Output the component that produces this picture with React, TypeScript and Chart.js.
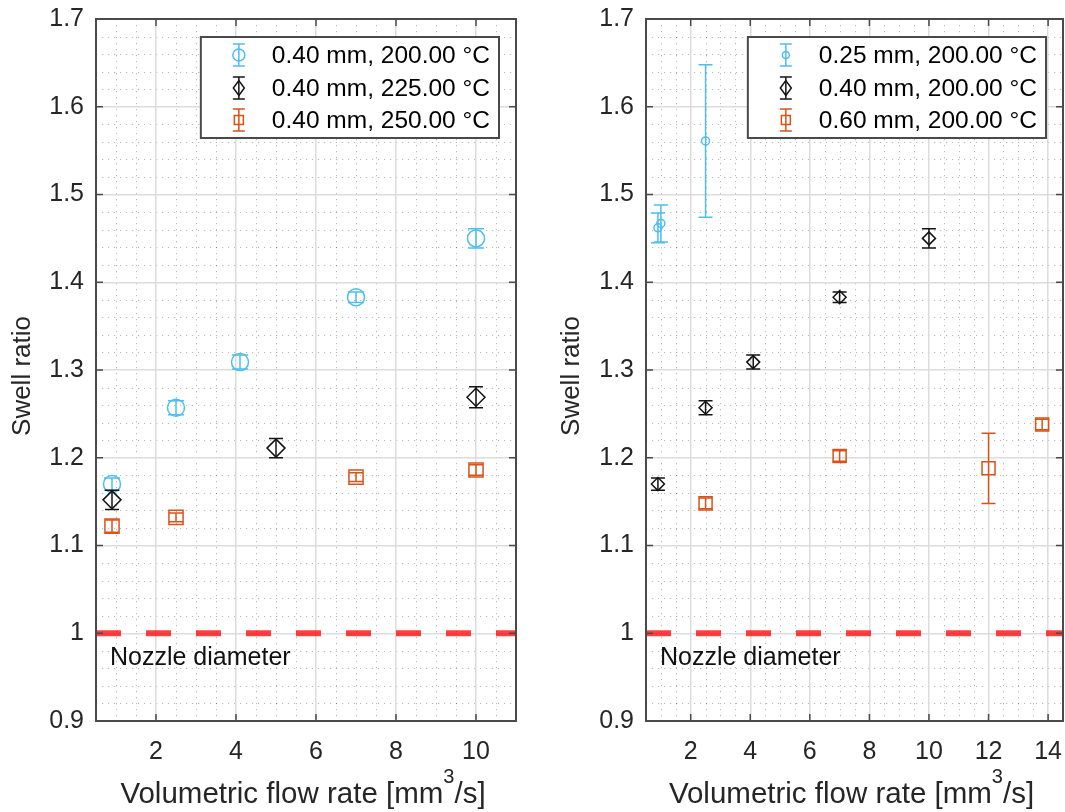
import React, { useEffect, useRef } from "react";
import { Chart, registerables } from "chart.js";

Chart.register(...registerables);

const FONT = "'Liberation Sans', Arial, Helvetica, sans-serif";

// ---------- Left panel data (0.40 mm nozzle, varying temperature) ----------
const LEFT_LABELS = ["0.40 mm, 200.00 °C", "0.40 mm, 225.00 °C", "0.40 mm, 250.00 °C"];
const LEFT_S1_X = [0.9, 2.5, 4.1, 7.0, 10.0];
const LEFT_S1_Y = [1.17, 1.257, 1.309, 1.383, 1.45];
const LEFT_S1_ERR = [0.007, 0.008, 0.008, 0.006, 0.011];
const LEFT_S2_X = [0.9, 5.0, 10.0];
const LEFT_S2_Y = [1.152, 1.211, 1.269];
const LEFT_S2_ERR = [0.011, 0.011, 0.012];
const LEFT_S3_X = [0.9, 2.5, 7.0, 10.0];
const LEFT_S3_Y = [1.122, 1.132, 1.178, 1.186];
const LEFT_S3_ERR = [0.007, 0.005, 0.005, 0.006];

// ---------- Right panel data (200 °C, varying nozzle diameter) ----------
const RIGHT_LABELS = ["0.25 mm, 200.00 °C", "0.40 mm, 200.00 °C", "0.60 mm, 200.00 °C"];
const RIGHT_S1_X = [0.9, 1.0, 2.5];
const RIGHT_S1_Y = [1.462, 1.467, 1.561];
const RIGHT_S1_ERR = [0.017, 0.021, 0.087];
const RIGHT_S2_X = [0.9, 2.5, 4.1, 7.0, 10.0];
const RIGHT_S2_Y = [1.17, 1.257, 1.309, 1.383, 1.45];
const RIGHT_S2_ERR = [0.007, 0.008, 0.008, 0.006, 0.011];
const RIGHT_S3_X = [2.5, 7.0, 12.0, 13.8];
const RIGHT_S3_Y = [1.148, 1.202, 1.188, 1.238];
const RIGHT_S3_ERR = [0.006, 0.006, 0.04, 0.006];

// ---------- Axes ----------
const NOZZLE_Y = [1, 1];
const NOZZLE_TEXT = "Nozzle diameter";
const NOZZLE_TEXT_Y = 0.972;
const LEFT_X_RANGE = [0.5, 11];
const RIGHT_X_RANGE = [0.5, 14.5];
const Y_RANGE = [0.9, 1.7];
const LEFT_X_TICKS = [2, 4, 6, 8, 10];
const LEFT_X_TICK_LABELS = ["2", "4", "6", "8", "10"];
const RIGHT_X_TICKS = [2, 4, 6, 8, 10, 12, 14];
const RIGHT_X_TICK_LABELS = ["2", "4", "6", "8", "10", "12", "14"];
const Y_TICKS = [0.9, 1.0, 1.1, 1.2, 1.3, 1.4, 1.5, 1.6, 1.7];
const Y_TICK_LABELS = ["0.9", "1", "1.1", "1.2", "1.3", "1.4", "1.5", "1.6", "1.7"];
const Y_TITLE = "Swell ratio";
const X_TITLE_MAIN = "Volumetric flow rate [mm";
const X_TITLE_SUP = "3";
const X_TITLE_END = "/s]";

const BLUE = "rgb(77,190,238)";
const BLACK = "rgb(20,20,20)";
const ORANGE = "rgb(217,83,25)";
const AXIS_COLOR = "#4a4a4a";
const TEXT_COLOR = "#262626";

type Shape = "circle" | "rectRot" | "rect";
interface SeriesCfg {
  label: string;
  xs: number[];
  ys: number[];
  errs: number[];
  color: string;
  shape: Shape;
  radius: number;
  cap: number;
  legendSize: number;
}
interface PanelCfg {
  series: SeriesCfg[];
  xRange: number[];
  xTicks: number[];
  xTickLabels: string[];
  canvasLeft: number;
  canvasWidth: number;
  areaLeft: number;
  areaRight: number;
  yTitleX: number;
}

const AREA_TOP = 19;
const AREA_BOTTOM = 721;
const H = 812;

function drawShape(ctx: CanvasRenderingContext2D, shape: Shape, x: number, y: number, s: number) {
  ctx.beginPath();
  if (shape === "circle") {
    ctx.arc(x, y, s, 0, Math.PI * 2);
  } else if (shape === "rectRot") {
    ctx.moveTo(x, y - s * 1.35);
    ctx.lineTo(x + s, y);
    ctx.lineTo(x, y + s * 1.35);
    ctx.lineTo(x - s, y);
    ctx.closePath();
  } else {
    ctx.rect(x - s, y - s, 2 * s, 2 * s);
  }
  ctx.stroke();
}

function makePlugin(p: PanelCfg) {
  return {
    id: "panelDecor",
    beforeDraw(chart: any) {
      const { ctx, chartArea: a, scales } = chart;
      const xs = scales.x;
      const ys = scales.y;
      ctx.save();
      ctx.strokeStyle = "rgba(0,0,0,0.28)";
      ctx.lineWidth = 1;
      ctx.setLineDash([1.2, 4.8]);
      for (let i = 0; i <= 40; i++) {
        if (i % 5 === 0) continue;
        const v = Y_RANGE[0] + i * 0.02;
        const py = Math.round(ys.getPixelForValue(v)) + 0.5;
        ctx.beginPath();
        ctx.moveTo(a.left, py);
        ctx.lineTo(a.right, py);
        ctx.stroke();
      }
      for (let i = 1; i <= 60; i++) {
        const v = i * 0.5;
        if (v <= p.xRange[0] || v >= p.xRange[1]) continue;
        if (i % 4 === 0) continue;
        const px = Math.round(xs.getPixelForValue(v)) + 0.5;
        ctx.beginPath();
        ctx.moveTo(px, a.top);
        ctx.lineTo(px, a.bottom);
        ctx.stroke();
      }
      ctx.restore();
    },
    afterDatasetsDraw(chart: any) {
      const { ctx, scales } = chart;
      const xs = scales.x;
      const ys = scales.y;
      ctx.save();
      ctx.lineWidth = 1.5;
      chart.data.datasets.forEach((ds: any) => {
        if (!ds.errorBars) return;
        ctx.strokeStyle = ds.borderColor;
        ds.data.forEach((pt: any, i: number) => {
          const e = ds.errorBars[i];
          const px = xs.getPixelForValue(pt.x);
          const pt1 = ys.getPixelForValue(pt.y + e);
          const pb = ys.getPixelForValue(pt.y - e);
          const c = ds.capHalf;
          ctx.beginPath();
          ctx.moveTo(px, pt1);
          ctx.lineTo(px, pb);
          ctx.moveTo(px - c, pt1);
          ctx.lineTo(px + c, pt1);
          ctx.moveTo(px - c, pb);
          ctx.lineTo(px + c, pb);
          ctx.stroke();
        });
      });
      ctx.restore();
    },
    afterDraw(chart: any) {
      const { ctx, chartArea: a, scales } = chart;
      const xs = scales.x;
      const ys = scales.y;
      ctx.save();
      // nozzle label
      ctx.fillStyle = "#111";
      ctx.font = `25px ${FONT}`;
      ctx.textAlign = "left";
      ctx.textBaseline = "middle";
      ctx.fillText(NOZZLE_TEXT, a.left + 14, ys.getPixelForValue(NOZZLE_TEXT_Y));

      // x tick labels
      ctx.fillStyle = TEXT_COLOR;
      ctx.font = `25px ${FONT}`;
      ctx.textAlign = "center";
      ctx.textBaseline = "middle";
      p.xTicks.forEach((v, i) => {
        ctx.fillText(p.xTickLabels[i], xs.getPixelForValue(v), a.bottom + 31);
      });

      // box + inward ticks
      ctx.strokeStyle = AXIS_COLOR;
      ctx.lineWidth = 2;
      ctx.strokeRect(a.left, a.top, a.right - a.left, a.bottom - a.top);
      ctx.lineWidth = 1.5;
      const tl = 7;
      ctx.beginPath();
      p.xTicks.forEach((v) => {
        const px = xs.getPixelForValue(v);
        ctx.moveTo(px, a.bottom);
        ctx.lineTo(px, a.bottom - tl);
        ctx.moveTo(px, a.top);
        ctx.lineTo(px, a.top + tl);
      });
      Y_TICKS.forEach((v) => {
        const py = ys.getPixelForValue(v);
        ctx.moveTo(a.left, py);
        ctx.lineTo(a.left + tl, py);
        ctx.moveTo(a.right, py);
        ctx.lineTo(a.right - tl, py);
      });
      ctx.stroke();

      // legend
      ctx.font = `24.5px ${FONT}`;
      let maxW = 0;
      p.series.forEach((s) => {
        maxW = Math.max(maxW, ctx.measureText(s.label).width);
      });
      const boxW = 71 + maxW + 9;
      const boxH = 101;
      const bx = a.right - 17 - boxW;
      const by = a.top + 18;
      ctx.fillStyle = "#fff";
      ctx.fillRect(bx, by, boxW, boxH);
      ctx.strokeStyle = AXIS_COLOR;
      ctx.lineWidth = 2;
      ctx.strokeRect(bx, by, boxW, boxH);
      const rows = [18, 51, 83];
      p.series.forEach((s, i) => {
        const cy = by + rows[i];
        const cx = bx + 38;
        ctx.strokeStyle = s.color;
        ctx.lineWidth = 1.5;
        ctx.beginPath();
        ctx.moveTo(cx, cy - 11);
        ctx.lineTo(cx, cy + 11);
        ctx.moveTo(cx - 6, cy - 11);
        ctx.lineTo(cx + 6, cy - 11);
        ctx.moveTo(cx - 6, cy + 11);
        ctx.lineTo(cx + 6, cy + 11);
        ctx.stroke();
        drawShape(ctx, s.shape, cx, cy, s.legendSize);
        ctx.fillStyle = "#000";
        ctx.textAlign = "left";
        ctx.textBaseline = "middle";
        ctx.fillText(s.label, bx + 71, cy + 1);
      });

      // y title
      ctx.fillStyle = TEXT_COLOR;
      ctx.font = `26px ${FONT}`;
      ctx.save();
      ctx.translate(p.yTitleX, (a.top + a.bottom) / 2 + 6);
      ctx.rotate(-Math.PI / 2);
      ctx.textAlign = "center";
      ctx.textBaseline = "middle";
      ctx.fillText(Y_TITLE, 0, 0);
      ctx.restore();

      // x title with superscript
      const mainF = `29.5px ${FONT}`;
      const supF = `20px ${FONT}`;
      ctx.font = mainF;
      const w1 = ctx.measureText(X_TITLE_MAIN).width;
      const w3 = ctx.measureText(X_TITLE_END).width;
      ctx.font = supF;
      const w2 = ctx.measureText(X_TITLE_SUP).width;
      const total = w1 + w2 + w3;
      let x0 = (a.left + a.right) / 2 - total / 2 - 3;
      const base = 803;
      ctx.textAlign = "left";
      ctx.textBaseline = "alphabetic";
      ctx.font = mainF;
      ctx.fillText(X_TITLE_MAIN, x0, base);
      x0 += w1;
      ctx.font = supF;
      ctx.fillText(X_TITLE_SUP, x0, base - 20);
      x0 += w2;
      ctx.font = mainF;
      ctx.fillText(X_TITLE_END, x0, base);
      ctx.restore();
    },
  };
}

function Panel({ cfg }: { cfg: PanelCfg }) {
  const ref = useRef<HTMLCanvasElement>(null);
  useEffect(() => {
    const canvas = ref.current;
    if (!canvas) return;
    const datasets: any[] = cfg.series.map((s, i) => ({
      type: "scatter",
      label: s.label,
      data: s.xs.map((x, j) => ({ x, y: s.ys[j] })),
      errorBars: s.errs,
      capHalf: s.cap,
      pointStyle: s.shape,
      pointRadius: s.radius,
      pointHoverRadius: s.radius,
      pointBorderWidth: 1.5,
      borderColor: s.color,
      backgroundColor: "rgba(0,0,0,0)",
      showLine: false,
      order: 3 - i,
    }));
    datasets.push({
      type: "line",
      label: NOZZLE_TEXT,
      data: [
        { x: cfg.xRange[0], y: NOZZLE_Y[0] },
        { x: cfg.xRange[1], y: NOZZLE_Y[1] },
      ],
      borderColor: "rgba(255,0,0,0.75)",
      borderWidth: 6,
      borderDash: [25, 25],
      borderCapStyle: "butt",
      pointRadius: 0,
      showLine: true,
      fill: false,
      order: 10,
    });
    const chart = new Chart(canvas, {
      type: "scatter",
      data: { datasets },
      options: {
        responsive: false,
        animation: false,
        devicePixelRatio: 1,
        events: [],
        layout: {
          autoPadding: false,
          padding: { left: 0, right: cfg.canvasWidth - cfg.areaRight, top: AREA_TOP, bottom: 0 },
        },
        plugins: {
          legend: { display: false },
          tooltip: { enabled: false },
        },
        scales: {
          x: {
            type: "linear",
            min: cfg.xRange[0],
            max: cfg.xRange[1],
            afterBuildTicks: (s: any) => {
              s.ticks = cfg.xTicks.map((value) => ({ value }));
            },
            afterFit: (s: any) => {
              s.height = H - AREA_BOTTOM;
              s.paddingLeft = 0;
              s.paddingRight = 0;
            },
            grid: { color: "#dcdcdc", lineWidth: 1.5, drawTicks: false },
            border: { display: false },
            ticks: { display: false },
          },
          y: {
            type: "linear",
            min: Y_RANGE[0],
            max: Y_RANGE[1],
            afterBuildTicks: (s: any) => {
              s.ticks = Y_TICKS.map((value) => ({ value }));
            },
            afterFit: (s: any) => {
              s.width = cfg.areaLeft;
              s.paddingTop = 0;
              s.paddingBottom = 0;
            },
            grid: { color: "#dcdcdc", lineWidth: 1.5, drawTicks: false },
            border: { display: false },
            ticks: {
              color: TEXT_COLOR,
              font: { size: 25, family: FONT },
              padding: 12,
              autoSkip: false,
              callback: (_v: any, i: number) => Y_TICK_LABELS[i],
            },
          },
        },
      },
      plugins: [makePlugin(cfg)],
    } as any);
    return () => chart.destroy();
  }, [cfg]);
  return (
    <canvas
      ref={ref}
      width={cfg.canvasWidth}
      height={H}
      style={{ position: "absolute", left: cfg.canvasLeft, top: 0, width: cfg.canvasWidth, height: H }}
    />
  );
}

const LEFT_CFG: PanelCfg = {
  series: [
    { label: LEFT_LABELS[0], xs: LEFT_S1_X, ys: LEFT_S1_Y, errs: LEFT_S1_ERR, color: BLUE, shape: "circle", radius: 8.5, cap: 8, legendSize: 6 },
    { label: LEFT_LABELS[1], xs: LEFT_S2_X, ys: LEFT_S2_Y, errs: LEFT_S2_ERR, color: BLACK, shape: "rectRot", radius: 9, cap: 7, legendSize: 5.5 },
    { label: LEFT_LABELS[2], xs: LEFT_S3_X, ys: LEFT_S3_Y, errs: LEFT_S3_ERR, color: ORANGE, shape: "rect", radius: 10, cap: 7, legendSize: 4.5 },
  ],
  xRange: LEFT_X_RANGE,
  xTicks: LEFT_X_TICKS,
  xTickLabels: LEFT_X_TICK_LABELS,
  canvasLeft: 0,
  canvasWidth: 540,
  areaLeft: 96,
  areaRight: 516,
  yTitleX: 23,
};

const RIGHT_CFG: PanelCfg = {
  series: [
    { label: RIGHT_LABELS[0], xs: RIGHT_S1_X, ys: RIGHT_S1_Y, errs: RIGHT_S1_ERR, color: BLUE, shape: "circle", radius: 4, cap: 7, legendSize: 3.5 },
    { label: RIGHT_LABELS[1], xs: RIGHT_S2_X, ys: RIGHT_S2_Y, errs: RIGHT_S2_ERR, color: BLACK, shape: "rectRot", radius: 6.5, cap: 7, legendSize: 5.5 },
    { label: RIGHT_LABELS[2], xs: RIGHT_S3_X, ys: RIGHT_S3_Y, errs: RIGHT_S3_ERR, color: ORANGE, shape: "rect", radius: 9.2, cap: 7, legendSize: 4.5 },
  ],
  xRange: RIGHT_X_RANGE,
  xTicks: RIGHT_X_TICKS,
  xTickLabels: RIGHT_X_TICK_LABELS,
  canvasLeft: 540,
  canvasWidth: 525,
  areaLeft: 106,
  areaRight: 523,
  yTitleX: 32,
};

export default function App() {
  return (
    <div style={{ position: "fixed", left: 0, top: 0, width: 1065, height: H, background: "#fff", overflow: "hidden" }}>
      <Panel cfg={LEFT_CFG} />
      <Panel cfg={RIGHT_CFG} />
    </div>
  );
}
